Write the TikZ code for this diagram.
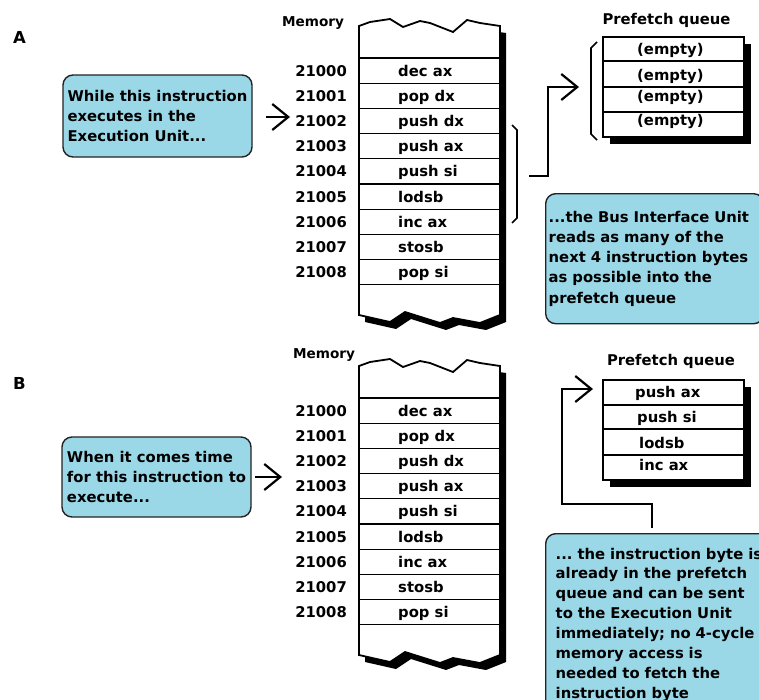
\documentclass[tikz,border=0pt]{standalone}
\usepackage{fontspec}
\setmainfont{DejaVu Sans}
\usetikzlibrary{arrows.meta}
\definecolor{calloutblue}{RGB}{154,216,232}
\definecolor{edgegray}{RGB}{35,35,35}
\frenchspacing
\begin{document}
\begin{tikzpicture}[x=1pt,y=-1pt,
  txt/.style={font=\fontsize{14.8}{20.2}\selectfont\bfseries, inner sep=0pt},
  lbl/.style={font=\fontsize{13.6}{16}\selectfont\bfseries, inner sep=0pt},
  letter/.style={font=\fontsize{16.5}{18}\selectfont\bfseries, inner sep=0pt},
  callout/.style={draw=edgegray, line width=1.4pt, fill=calloutblue, rounded corners=10pt,
    font=\fontsize{14.8}{20.2}\selectfont\bfseries\frenchspacing, align=left},
  conn/.style={line width=2.2pt, -{Straight Barb[length=16pt,width=26pt]}},
  brk/.style={line width=1.6pt},
  rowline/.style={line width=1.3pt},
  qbox/.style={draw, line width=1.6pt, fill=white, minimum width=141pt, minimum height=100pt, inner sep=0pt, anchor=north west},
  memshape/.pic={\path[pic actions] (359,26) -- (370,22) -- (390,19) -- (403,27) -- (420,21) -- (430,23) -- (453,32) -- (467,20) -- (480,23) -- (500,26)
      -- (500,315) -- (480,323) -- (453,318) -- (440,323) -- (405,312) -- (390,322) -- (359,315) -- cycle;},
]
\useasboundingbox (0,0) rectangle (759,699);
\clip (0,0) rectangle (759,699);
\fill[white] (0,0) rectangle (759,699);

% panel letters and memory labels
\node[letter, anchor=base west] (labA) at (13,43) {A};
\node[letter, anchor=base west] (labB) at (13,389) {B};
\node[lbl, anchor=base west] (memA) at (282,26) {Memory};
\node[lbl, anchor=base west] (memB) at (293,358) {Memory};

% memory columns
\foreach \p/\dy in {a/0,b/340}{
  \begin{scope}[shift={(0,\dy)}]
    \pic[fill=black] at (6,7) {memshape};
    \pic[fill=white, draw=black, line width=1.8pt] at (0,0) {memshape};
    \foreach \k in {0,...,9}
      \draw[rowline] (359,{58+25.2*\k}) -- (500,{58+25.2*\k});
    \foreach \ins [count=\k from 0] in {dec ax,pop dx,push dx,push ax,push si,lodsb,inc ax,stosb,pop si}{
      \node[txt, anchor=base east] (\p addr\k) at (347,{76+25.2*\k}) {2100\k};
      \node[txt, anchor=base west] (\p ins\k) at (398,{76+25.2*\k}) {\ins};
    }
  \end{scope}
}

% ---------- Panel A ----------
\node[callout, minimum width=189pt, minimum height=82pt] (ca) at (157.5,116)
  {While this instruction\\executes in the\\Execution Unit...};
\coordinate (tipA) at (290,117);
\draw[conn] ([xshift=13pt]ca.east |- tipA) -- (tipA);

% bracket on memory
\draw[brk] (512,125) -- (517,130) -- (517,218) -- (512,223);
\coordinate (brA) at (517,176);

% prefetch queue A
\node[txt, anchor=base] (pqA) at (666.5,24) {Prefetch queue};
\fill[black] (610,44) rectangle (751,144);
\node[qbox] (qA) at (602,36) {};
\draw[rowline] (602,61) -- (743,61);
\draw[rowline] (602,87) -- (743,87);
\draw[rowline] (602,112) -- (743,112);
\node[txt, anchor=base west] (qa1) at (637,54) {(empty)};
\node[txt, anchor=base west] (qa2) at (637,80) {(empty)};
\node[txt, anchor=base west] (qa3) at (637,101) {(empty)};
\node[txt, anchor=base west] (qa4) at (637,125) {(empty)};
\draw[brk] (597,42) -- (591,48) -- (591,134) -- (597,140);

\coordinate (qinA) at (579,87);
\draw[conn] ([xshift=12pt]brA) -| (548,87) -- (qinA);

\node[callout, text width=212pt, inner xsep=3pt, minimum height=130pt, anchor=north west] (cra) at (545,193)
  {...the Bus Interface Unit\\reads as many of the\\next 4 instruction bytes\\as possible into the\\prefetch queue};

% ---------- Panel B ----------
\node[callout, minimum width=189pt, minimum height=80pt] (cb) at (156.5,477)
  {When it comes time\\for this instruction to\\execute...};
\coordinate (tipB) at (282,477);
\draw[conn] ([xshift=3pt]cb.east |- tipB) -- (tipB);

\node[txt, anchor=base] (pqB) at (671,365) {Prefetch queue};
\fill[black] (610,387) rectangle (751,487);
\node[qbox] (qB) at (602,379) {};
\draw[rowline] (602,405) -- (743,405);
\draw[rowline] (602,429) -- (743,429);
\draw[rowline] (602,455) -- (743,455);
\node[txt, anchor=base west] (qb1) at (635,397) {push ax};
\node[txt, anchor=base west] (qb2) at (637,422) {push si};
\node[txt, anchor=base west] (qb3) at (639,448) {lodsb};
\node[txt, anchor=base west] (qb4) at (639,470) {inc ax};

\node[callout, text width=215pt, inner xsep=10pt, minimum height=182pt, anchor=north west,
      font=\fontsize{14.8}{19.9}\selectfont\bfseries] (crb) at (545,533)
  {... the instruction byte is\\already in the prefetch\\queue and can be sent\\to the Execution Unit\\immediately; no 4-cycle\\memory access is\\needed to fetch the\\instruction byte};

\coordinate (qinB) at (593,389);
\draw[conn] ([xshift=107pt,yshift=5pt]crb.north west) |- (562,504) |- (qinB);
\end{tikzpicture}
\end{document}
